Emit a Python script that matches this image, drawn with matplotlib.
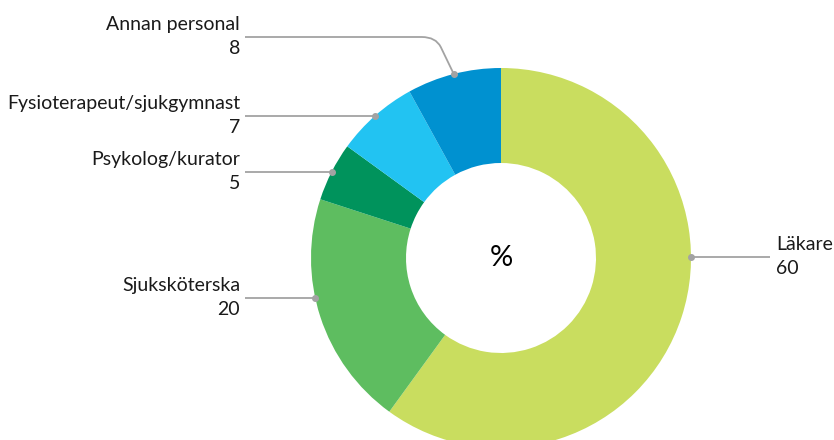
import numpy as np
import matplotlib
matplotlib.use("Agg")
import matplotlib.pyplot as plt
from matplotlib.path import Path
from matplotlib.patches import PathPatch

# data (andel i procent)
kategorier = ["Läkare", "Sjuksköterska", "Psykolog/kurator",
              "Fysioterapeut/sjukgymnast", "Annan personal"]
andelar = [60, 20, 5, 7, 8]
farger = ["#C9DD5F", "#5EBD60", "#00935C", "#22C3F2", "#0091D0"]

# layout i pixlar (y nedifran)
W, H = 834, 440
CX, CY = 501, 258
R = 190
HAL = 0.50
linje_y = [257, 298, 172, 116, 37]
text_x = [776, 240, 240, 240, 240]
bojd = [False, False, False, False, True]
LINJEFARG = "#A3A3A3"

plt.rcParams['font.family'] = ['Lato', 'DejaVu Sans']

fig = plt.figure(figsize=(W / 100, H / 100), dpi=100)
ax = fig.add_axes([0, 0, 1, 1])

# y uppat i axeln: pixel-y -> H - y
ax.pie(andelar, colors=farger, startangle=90, counterclock=False,
       radius=R, center=(CX, H - CY),
       wedgeprops=dict(width=R * (1 - HAL), linewidth=0))
ax.set_xlim(0, W)
ax.set_ylim(0, H)
ax.set_aspect('equal')
ax.axis('off')

ax.text(CX, H - CY, "%", ha='center', va='center', fontsize=21, color='black')

# etiketter med ledarlinjer
kum = np.cumsum([0] + andelar)
total = sum(andelar)
for i, namn in enumerate(kategorier):
    ly = linje_y[i]
    tx = text_x[i]
    hoger = tx > CX
    if bojd[i]:
        # punkt mitt i sektorn, bojd linje upp till etiketten
        mitt = (kum[i] + kum[i + 1]) / 2 / total
        vinkel = np.pi / 2 - 2 * np.pi * mitt  # medurs fran toppen
        px = CX + R * np.cos(vinkel)
        py = CY - R * np.sin(vinkel)
        knae = px - 32
        verts = [(tx + 5, H - ly), (knae, H - ly), (knae + 14, H - ly),
                 (knae + 19, H - ly - 10), (px, H - py)]
        codes = [Path.MOVETO, Path.LINETO, Path.CURVE3, Path.CURVE3, Path.LINETO]
        ax.add_patch(PathPatch(Path(verts, codes), fill=False,
                               edgecolor=LINJEFARG, lw=1.3))
    else:
        # punkt pa cirkeln vid linjens hojd
        dx = np.sqrt(R ** 2 - (ly - CY) ** 2)
        px = CX + dx if hoger else CX - dx
        py = ly
        ax.plot([tx - 6 if hoger else tx + 5, px], [H - ly, H - ly],
                color=LINJEFARG, lw=1.3, solid_capstyle='butt')
    ax.plot(px, H - py, 'o', color=LINJEFARG, markersize=4)
    ha = 'left' if hoger else 'right'
    ax.text(tx, H - ly + 13, namn, ha=ha, va='center', fontsize=14, color='#1a1a1a')
    ax.text(tx, H - ly - 11, str(andelar[i]), ha=ha, va='center', fontsize=14,
            color='#1a1a1a')

fig.savefig("out.png", dpi=100)
